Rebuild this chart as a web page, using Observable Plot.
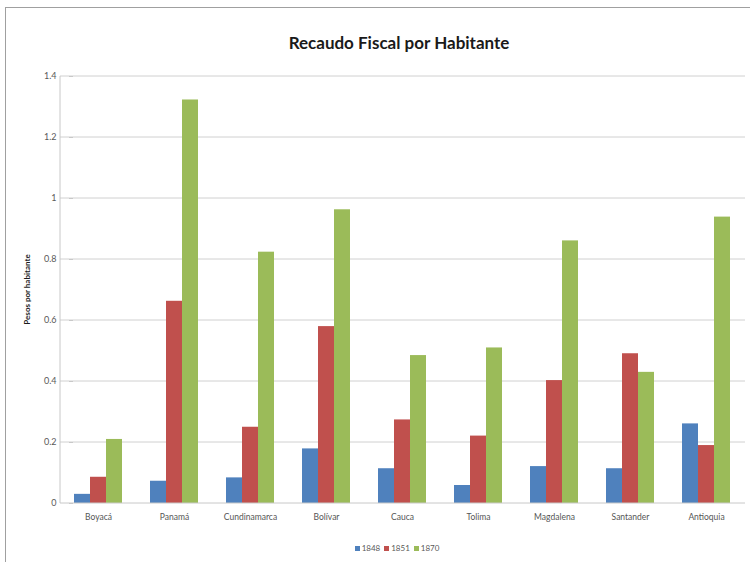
<!DOCTYPE html>
<html>
<head>
<meta charset="utf-8">
<script src="https://cdn.jsdelivr.net/npm/d3@7"></script>
<script src="https://cdn.jsdelivr.net/npm/@observablehq/plot@0.6"></script>
<style>
  html, body { margin: 0; padding: 0; background: #fff; }
  #wrap { position: relative; width: 750px; height: 562px; overflow: hidden; font-family: Lato, "Open Sans", sans-serif; }
  #frame { position: absolute; left: 5px; top: 7px; width: 760px; height: 570px; border: 1px solid #a0a0a0; box-sizing: border-box; }
  #title { position: absolute; left: 0; width: 798px; top: 32px; text-align: center; font-weight: bold; font-size: 17px; color: #1a1a1a; }
  #chart { position: absolute; left: 0; top: 0; }
  #legend { position: absolute; left: 0; width: 790px; top: 543px; text-align: center; font-size: 8px; color: #595959; }
  #legend span.sw { display: inline-block; width: 5px; height: 5px; margin: 0 2px 0 4px; vertical-align: middle; }
</style>
</head>
<body>
<div id="wrap">
  <div id="frame"></div>
  <div id="chart"></div>
  <div id="title">Recaudo Fiscal por Habitante</div>
  <div id="legend"></div>
</div>
<script>
const categories = ["Boyacá", "Panamá", "Cundinamarca", "Bolívar", "Cauca", "Tolima", "Magdalena", "Santander", "Antioquia"];
const years = ["1848", "1851", "1870"];
const values1848 = [0.03, 0.073, 0.084, 0.179, 0.114, 0.059, 0.121, 0.114, 0.261];
const values1851 = [0.086, 0.663, 0.25, 0.58, 0.274, 0.221, 0.403, 0.491, 0.19];
const values1870 = [0.21, 1.323, 0.824, 0.963, 0.485, 0.51, 0.861, 0.43, 0.939];
const colors = ["#4f81bd", "#c0504d", "#9bbb59"];
const yTicks = [0, 0.2, 0.4, 0.6, 0.8, 1, 1.2, 1.4];
const yLabel = "Pesos por habitante";

const series = [values1848, values1851, values1870];
const data = [];
categories.forEach((c, i) => {
  years.forEach((y, j) => data.push({ state: c, year: y, value: series[j][i] }));
});

const M = { left: 60, right: 5, top: 76, bottom: 59 };
const W = 750, H = 562;

const chart = Plot.plot({
  width: W,
  height: H,
  marginLeft: M.left,
  marginRight: M.right,
  marginTop: M.top,
  marginBottom: M.bottom,
  style: { fontFamily: "Lato, 'Open Sans', sans-serif", background: "transparent" },
  fx: { domain: categories, paddingInner: 0.34, paddingOuter: 0.17, label: null },
  x: { domain: years, padding: 0, axis: null },
  y: { domain: [0, 1.4], label: null, axis: null },
  color: { domain: years, range: colors },
  marks: [
    Plot.barY(data, { fx: "state", x: "year", y: "value", fill: "year", inset: 0 }),
    Plot.axisY(yTicks, {
      tickFormat: d => String(d),
      tickSize: 4,
      tickPadding: 13,
      stroke: "#c8c8c8",
      fill: "#595959",
      fontSize: 9,
      label: null
    }),
    Plot.axisFx({ anchor: "bottom", tickSize: 0, tickPadding: 10, fontSize: 8.5, fill: "#555555", label: null })
  ]
});
document.getElementById("chart").appendChild(chart);

// continuous gridlines and axis lines using the chart's own y scale
const y = chart.scale("y");
const svg = d3.select(chart);
const g = svg.insert("g", ":first-child").attr("aria-label", "grid");
g.selectAll("line.grid")
  .data(yTicks.filter(d => d !== 0))
  .join("line")
  .attr("x1", M.left).attr("x2", W - M.right)
  .attr("y1", d => y.apply(d)).attr("y2", d => y.apply(d))
  .attr("stroke", "#d0d0d0");
svg.append("line")
  .attr("x1", M.left).attr("x2", W - M.right)
  .attr("y1", y.apply(0)).attr("y2", y.apply(0))
  .attr("stroke", "#c8c8c8");
svg.append("line")
  .attr("x1", M.left).attr("x2", M.left)
  .attr("y1", y.apply(1.4)).attr("y2", y.apply(0))
  .attr("stroke", "#c8c8c8");
const cy = (y.apply(0) + y.apply(1.4)) / 2;
svg.append("text")
  .attr("transform", `translate(27,${cy}) rotate(-90)`)
  .attr("text-anchor", "middle")
  .attr("dy", "0.35em")
  .attr("font-family", "Lato, 'Open Sans', sans-serif")
  .attr("font-weight", "bold")
  .attr("font-size", 8)
  .attr("fill", "#1a1a1a")
  .text(yLabel);

const legend = document.getElementById("legend");
years.forEach((yr, j) => {
  const sw = document.createElement("span");
  sw.className = "sw";
  sw.style.background = colors[j];
  legend.appendChild(sw);
  legend.appendChild(document.createTextNode(yr));
});
</script>
</body>
</html>
